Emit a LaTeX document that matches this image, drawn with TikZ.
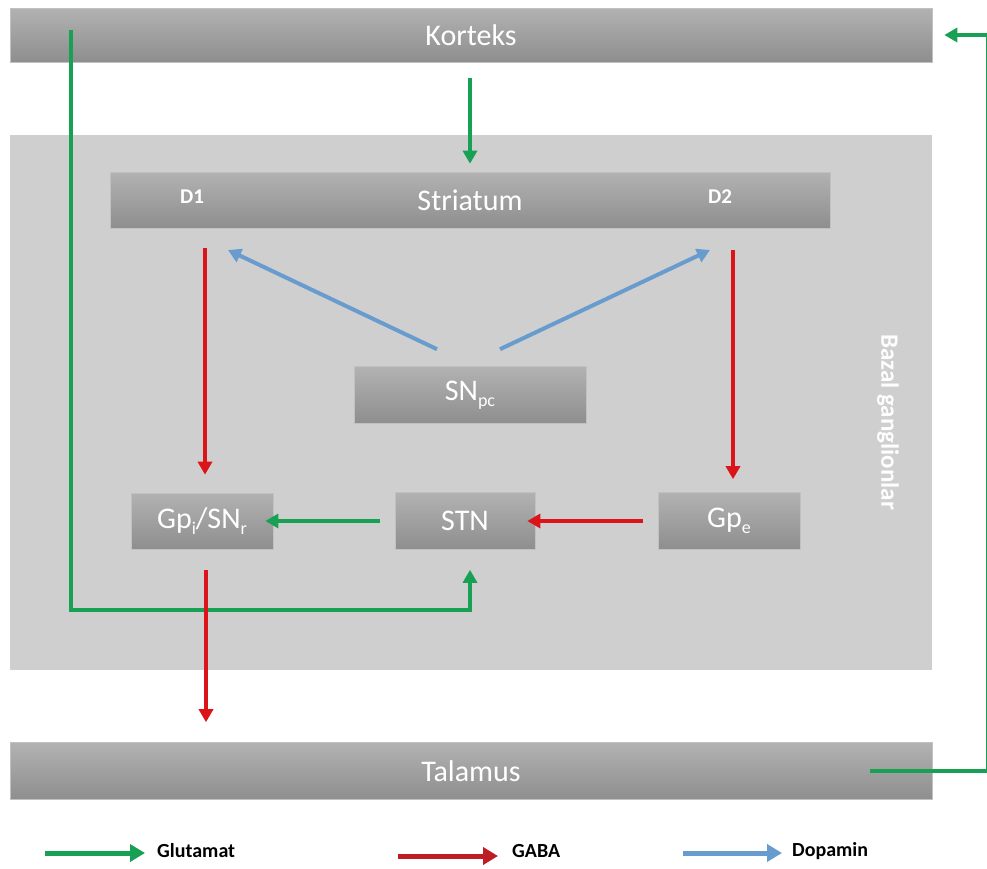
\documentclass[tikz,border=0pt]{standalone}
\usepackage{fontspec}
\setmainfont{Carlito}
\usetikzlibrary{arrows.meta}
\newcommand\lowsub[1]{\raisebox{-6pt}{\fontsize{18}{20}\selectfont #1}}
\definecolor{glu}{RGB}{24,160,84}
\definecolor{gaba}{RGB}{218,20,24}
\definecolor{gabaleg}{RGB}{190,30,35}
\definecolor{dopa}{RGB}{104,156,206}
\definecolor{bgg}{RGB}{208,207,208}
\definecolor{boxtop}{RGB}{178,178,178}
\definecolor{boxbot}{RGB}{142,142,142}
\begin{document}
\begin{tikzpicture}[x=1pt,y=-1pt,
  graybox/.style={draw=boxtop!80!white,line width=0.6pt,top color=boxtop,bottom color=boxbot,
     text=white,inner sep=0pt,font=\fontsize{30}{33}\selectfont},
  dlabel/.style={text=white,font=\bfseries\fontsize{21}{24}\selectfont,inner sep=0pt},
  conn/.style={line width=4pt,-{Triangle[length=13pt,width=14pt]}},
  gl/.style={conn,draw=glu},
  ga/.style={conn,draw=gaba},
  dp/.style={conn,draw=dopa},
  legarrow/.style={line width=5pt,-{Triangle[length=15pt,width=17pt]}},
  legtext/.style={anchor=west,inner sep=0pt,font=\bfseries\fontsize{20}{23}\selectfont}]
\useasboundingbox (0,0) rectangle (987,868);
\fill[white] (0,0) rectangle (987,868);
% basal ganglia background
\fill[bgg] (10,135) rectangle (932,670);
\node[rotate=-90,text=white!96!bgg,font=\bfseries\fontsize{25}{28}\selectfont,inner sep=0pt] (bg) at (888,422) {Bazal ganglionlar};
% main bars
\node[graybox,minimum width=922pt,minimum height=54pt] (korteks) at (471,35) {Korteks};
\node[graybox,minimum width=720pt,minimum height=56pt] (striatum) at (470,200) {Striatum};
\node[dlabel] (d1) at (192,197) {D1};
\node[dlabel] (d2) at (720,197) {D2};
\node[graybox,minimum width=232pt,minimum height=57pt] (snpc) at (470,395) {SN\lowsub{pc}};
\node[graybox,minimum width=142pt,minimum height=56pt] (gpi) at (202,521) {Gp\lowsub{i}/SN\lowsub{r}};
\node[graybox,minimum width=140pt,minimum height=57pt] (stn) at (465,521) {STN};
\node[graybox,minimum width=142pt,minimum height=57pt] (gpe) at (729,521) {Gp\lowsub{e}};
\node[graybox,minimum width=922pt,minimum height=57pt] (talamus) at (471,771) {Talamus};
% connectors
\draw[gl] ([yshift=-16pt]korteks.south -| striatum.north) -- ([yshift=8pt]striatum.north);
\coordinate (kl) at (71,30);
\coordinate (kb) at (71,610);
\draw[gl,line join=miter] (kl) -- (kb) -| ([xshift=5pt,yshift=-20pt]stn.south);
\draw[ga] (205,248) -- ([xshift=3pt,yshift=18pt]gpi.north);
\draw[ga] (733,250) -- ([xshift=4pt,yshift=13pt]gpe.north);
\draw[dp] ([xshift=-33pt,yshift=17pt]snpc.north) -- (228,250);
\draw[dp] ([xshift=30pt,yshift=17pt]snpc.north) -- (710,250);
\draw[gl] ([xshift=-15pt]stn.west) -- ([xshift=-8pt]gpi.east);
\draw[ga] ([xshift=-15pt]gpe.west) -- ([xshift=-8pt]stn.east);
\draw[ga] ([xshift=4pt,yshift=-21pt]gpi.south) -- ([yshift=20pt]talamus.north -| 206,0);
\coordinate (tr) at (870,771);
\coordinate (rc) at (988,771);
\draw[gl,line join=miter] (tr) -- (rc) |- ([xshift=12pt]korteks.east);
% legend
\node[legtext] (lglu) at (157,851) {Glutamat};
\node[legtext] (lgaba) at (512,851) {GABA};
\node[legtext] (ldopa) at (792,851) {Dopamin};
\draw[legarrow,draw=glu] (45,853) -- ([xshift=-12pt,yshift=-2pt]lglu.west);
\draw[legarrow,draw=gabaleg] (398,856) -- ([xshift=-14pt,yshift=-5pt]lgaba.west);
\draw[legarrow,draw=dopa] (683,853) -- ([xshift=-10pt,yshift=-2pt]ldopa.west);
\end{tikzpicture}
\end{document}
